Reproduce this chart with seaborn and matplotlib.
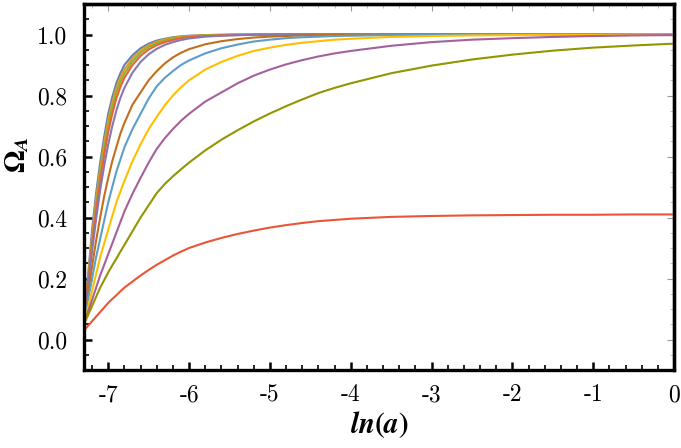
import numpy as np
import pandas as pd
import matplotlib
matplotlib.use("Agg")
import matplotlib.pyplot as plt
import matplotlib.ticker as mtk
import seaborn as sns

# ln(a) sample points
lna = [-7.3, -7.25, -7.2, -7.15, -7.1, -7.05, -7.0, -6.95, -6.9, -6.85, -6.8,
       -6.7, -6.6, -6.5, -6.4, -6.3, -6.2, -6.1, -6.0, -5.8, -5.6,
       -5.4, -5.2, -5.0, -4.8, -4.6, -4.4, -4.2, -4.0,
       -3.5, -3.0, -2.5, -2.0, -1.5, -1.0, -0.5, 0.0]

# Omega_A for each curve, fastest to slowest
c01 = [0.05, 0.21, 0.36, 0.48, 0.58, 0.665, 0.74, 0.795, 0.84, 0.873, 0.90,
       0.932, 0.955, 0.97, 0.98, 0.986, 0.991, 0.994, 0.996, 0.998, 0.999,
       1.0, 1.0, 1.0, 1.0, 1.0, 1.0, 1.0, 1.0,
       1.0, 1.0, 1.0, 1.0, 1.0, 1.0, 1.0, 1.0]
c02 = [0.05, 0.20, 0.34, 0.46, 0.56, 0.645, 0.72, 0.778, 0.825, 0.86, 0.885,
       0.922, 0.948, 0.965, 0.976, 0.984, 0.989, 0.993, 0.995, 0.998, 0.999,
       1.0, 1.0, 1.0, 1.0, 1.0, 1.0, 1.0, 1.0,
       1.0, 1.0, 1.0, 1.0, 1.0, 1.0, 1.0, 1.0]
c03 = [0.05, 0.19, 0.32, 0.44, 0.54, 0.625, 0.70, 0.76, 0.81, 0.845, 0.872,
       0.912, 0.94, 0.959, 0.971, 0.98, 0.986, 0.99, 0.993, 0.997, 0.998,
       0.999, 1.0, 1.0, 1.0, 1.0, 1.0, 1.0, 1.0,
       1.0, 1.0, 1.0, 1.0, 1.0, 1.0, 1.0, 1.0]
c04 = [0.05, 0.185, 0.31, 0.425, 0.52, 0.605, 0.68, 0.74, 0.79, 0.828, 0.858,
       0.90, 0.93, 0.951, 0.965, 0.975, 0.982, 0.988, 0.991, 0.995, 0.997,
       0.998, 0.999, 1.0, 1.0, 1.0, 1.0, 1.0, 1.0,
       1.0, 1.0, 1.0, 1.0, 1.0, 1.0, 1.0, 1.0]
c05 = [0.05, 0.175, 0.29, 0.395, 0.49, 0.57, 0.64, 0.70, 0.75, 0.792, 0.825,
       0.875, 0.91, 0.935, 0.953, 0.966, 0.975, 0.982, 0.987, 0.993, 0.996,
       0.998, 0.999, 0.999, 1.0, 1.0, 1.0, 1.0, 1.0,
       1.0, 1.0, 1.0, 1.0, 1.0, 1.0, 1.0, 1.0]
c06 = [0.05, 0.15, 0.24, 0.325, 0.40, 0.47, 0.53, 0.585, 0.63, 0.675, 0.71,
       0.77, 0.81, 0.85, 0.88, 0.905, 0.925, 0.94, 0.952, 0.968, 0.978,
       0.985, 0.99, 0.993, 0.995, 0.997, 0.998, 0.999, 0.999,
       1.0, 1.0, 1.0, 1.0, 1.0, 1.0, 1.0, 1.0]
c07 = [0.05, 0.13, 0.20, 0.27, 0.33, 0.39, 0.45, 0.50, 0.55, 0.59, 0.63,
       0.69, 0.74, 0.79, 0.83, 0.858, 0.88, 0.90, 0.915, 0.938, 0.955,
       0.967, 0.977, 0.983, 0.988, 0.991, 0.993, 0.995, 0.996,
       0.998, 0.999, 1.0, 1.0, 1.0, 1.0, 1.0, 1.0]
c08 = [0.05, 0.105, 0.16, 0.215, 0.27, 0.315, 0.36, 0.405, 0.45, 0.485, 0.52,
       0.585, 0.64, 0.69, 0.73, 0.768, 0.80, 0.827, 0.85, 0.885, 0.91,
       0.93, 0.946, 0.957, 0.966, 0.973, 0.978, 0.983, 0.986,
       0.992, 0.995, 0.997, 0.998, 0.999, 0.999, 1.0, 1.0]
c09 = [0.05, 0.09, 0.13, 0.17, 0.21, 0.245, 0.28, 0.315, 0.35, 0.385, 0.42,
       0.478, 0.53, 0.58, 0.625, 0.66, 0.69, 0.717, 0.74, 0.78, 0.81,
       0.84, 0.865, 0.885, 0.902, 0.916, 0.928, 0.938, 0.946,
       0.963, 0.975, 0.983, 0.988, 0.992, 0.995, 0.997, 0.998]
c10 = [0.05, 0.08, 0.11, 0.14, 0.17, 0.195, 0.22, 0.243, 0.265, 0.288, 0.31,
       0.355, 0.40, 0.44, 0.48, 0.51, 0.535, 0.558, 0.58, 0.62, 0.655,
       0.686, 0.715, 0.741, 0.765, 0.787, 0.808, 0.825, 0.84,
       0.873, 0.898, 0.918, 0.934, 0.947, 0.957, 0.964, 0.970]
c11 = [0.03, 0.045, 0.06, 0.075, 0.09, 0.105, 0.12, 0.133, 0.145, 0.158, 0.17,
       0.19, 0.21, 0.228, 0.245, 0.26, 0.275, 0.288, 0.30, 0.318, 0.333,
       0.346, 0.357, 0.367, 0.375, 0.382, 0.388, 0.392, 0.396,
       0.402, 0.405, 0.407, 0.408, 0.409, 0.409, 0.41, 0.41]

curves = [c01, c02, c03, c04, c05, c06, c07, c08, c09, c10, c11]
colors = ["#5E81B5", "#E19C24", "#8FB032", "#EB6235", "#8778B3", "#C56E1A",
          "#5D9EC7", "#FFBF00", "#A5609D", "#929600", "#E95536"]

xticks = [-7, -6, -5, -4, -3, -2, -1, 0]
yticks = [0.0, 0.2, 0.4, 0.6, 0.8, 1.0]

df = pd.concat([pd.DataFrame({"lna": lna, "omega": c, "curve": i})
                for i, c in enumerate(curves)], ignore_index=True)

sns.set_style("white")
plt.rcParams["font.family"] = ["cmr10", "DejaVu Serif"]
plt.rcParams["mathtext.fontset"] = "stix"
plt.rcParams["axes.unicode_minus"] = False
plt.rcParams["axes.formatter.use_mathtext"] = True

fig = plt.figure(figsize=(6.81, 4.48), dpi=100)
ax = fig.add_axes([84 / 681, 78 / 448, 590 / 681, 366 / 448])

sns.lineplot(data=df, x="lna", y="omega", hue="curve", palette=colors,
             estimator=None, legend=False, linewidth=1.5, ax=ax)

ax.set_xlim(-7.3, 0)
ax.set_ylim(-0.1, 1.1)

ax.set_xticks(xticks)
ax.set_yticks(yticks)
ax.xaxis.set_minor_locator(mtk.MultipleLocator(0.2))
ax.yaxis.set_minor_locator(mtk.MultipleLocator(0.05))
ax.xaxis.set_major_formatter(mtk.FormatStrFormatter("%d"))
ax.yaxis.set_major_formatter(mtk.FormatStrFormatter("%.1f"))

ax.tick_params(which="major", direction="in", length=6, width=1.8, color="black",
               labelsize=17, labelcolor="black", pad=10)
ax.tick_params(axis="y", which="major", pad=12)
ax.tick_params(which="minor", direction="in", length=3.5, width=1.2, color="black")
ax.tick_params(left=True, bottom=True)
ax.tick_params(which="minor", left=True, bottom=True)

for s in ax.spines.values():
    s.set_visible(True)
    s.set_color("black")
    s.set_linewidth(2.4)

# lighter frame ticks on top and right, as Mathematica draws them
secx = ax.secondary_xaxis("top")
secx.set_xticks(xticks)
secx.xaxis.set_minor_locator(mtk.MultipleLocator(0.2))
secx.tick_params(which="major", direction="in", length=5, width=0.8, color="0.6",
                 labeltop=False)
secx.tick_params(which="minor", direction="in", length=3, width=0.6, color="0.7")
secx.spines["top"].set_linewidth(2.4)

secy = ax.secondary_yaxis("right")
secy.set_yticks(yticks)
secy.yaxis.set_minor_locator(mtk.MultipleLocator(0.05))
secy.tick_params(which="major", direction="in", length=5, width=0.8, color="0.6",
                 labelright=False)
secy.tick_params(which="minor", direction="in", length=3, width=0.6, color="0.7")
secy.spines["right"].set_linewidth(2.4)

ax.set_xlabel(r"$\mathbfit{ln}\mathbf{(}\mathbfit{a}\mathbf{)}$", fontsize=21,
              color="black")
ax.xaxis.set_label_coords(0.5, -0.108)
ax.set_ylabel(r"$\mathbf{\Omega}_{\mathbfit{A}}$", fontsize=21, color="black")
ax.yaxis.set_label_coords(-0.09, 0.59)

fig.savefig("out.png", dpi=100)
